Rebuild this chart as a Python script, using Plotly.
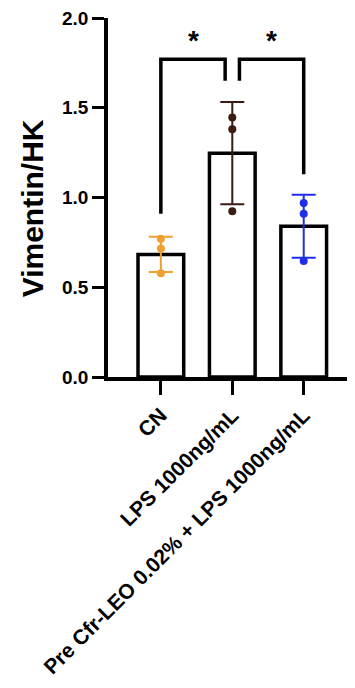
import plotly.graph_objects as go

categories = ["CN", "LPS 1000ng/mL", "Pre Cfr-LEO 0.02% + LPS 1000ng/mL"]
means = [0.683, 1.247, 0.840]
sds = [0.098, 0.285, 0.176]
points = [
    [0.770, 0.716, 0.578],
    [1.446, 1.380, 0.924],
    [0.970, 0.909, 0.646],
]
colors = ["#F0A030", "#3A1C12", "#1F2FE6"]
y_ticks = [0.0, 0.5, 1.0, 1.5, 2.0]
y_title = "Vimentin/HK"

# significance brackets
brackets_x = [(0.0, 0.9), (1.1, 2.0)]
brackets_leg = [(0.91, 1.65), (1.65, 1.13)]
bracket_top = 1.77
star_y = 1.875
star_text = ["*", "*"]

FONT = "Liberation Sans, Arial, sans-serif"

fig = go.Figure()
xs = list(range(len(categories)))
for i in xs:
    fig.add_trace(go.Bar(
        x=[i], y=[means[i]], width=0.64,
        marker=dict(color="white", line=dict(color="black", width=3.5)),
        error_y=dict(type="data", array=[sds[i]], visible=True,
                     color=colors[i], thickness=2, width=12),
        showlegend=False,
    ))
for i in xs:
    fig.add_trace(go.Scatter(
        x=[i] * len(points[i]), y=points[i], mode="markers",
        marker=dict(color=colors[i], size=8),
        showlegend=False,
    ))

for (xl, xr), (bl, br) in zip(brackets_x, brackets_leg):
    fig.add_trace(go.Scatter(
        x=[xl, xl, xr, xr], y=[bl, bracket_top, bracket_top, br],
        mode="lines", line=dict(color="black", width=3.5),
        showlegend=False, cliponaxis=False,
    ))
for (xl, xr), s in zip(brackets_x, star_text):
    fig.add_annotation(x=(xl + xr) / 2, y=star_y, text="<b>%s</b>" % s, showarrow=False,
                       font=dict(family=FONT, size=28, color="black"),
                       xref="x", yref="y")

# y-axis title placed as annotation
fig.add_annotation(x=-0.31, y=0.47, xref="paper", yref="paper", text="<b>%s</b>" % y_title,
                   textangle=-90, showarrow=False, xanchor="center", yanchor="middle",
                   font=dict(family=FONT, size=30, color="black"))

fig.update_layout(
    width=347, height=680,
    margin=dict(l=100, r=2, t=10, b=311),
    plot_bgcolor="white", paper_bgcolor="white",
    barmode="overlay",
    font=dict(family=FONT, color="black"),
)
fig.update_xaxes(
    range=[-0.74, 2.69], tickvals=xs, ticktext=["<b>%s</b>" % c for c in categories],
    tickangle=-45, showline=True, linecolor="black", linewidth=3.5,
    ticks="outside", ticklen=14, tickwidth=3, tickcolor="black",
    showgrid=False, zeroline=False, automargin=False, ticklabeloverflow="allow",
    tickfont=dict(family=FONT, size=21, color="black"),
)
fig.update_yaxes(
    range=[0, 2.0], tickvals=y_ticks, ticktext=["<b>%.1f</b>" % v for v in y_ticks],
    showline=True, linecolor="black", linewidth=3.5,
    ticks="outside", ticklen=12, tickwidth=3, tickcolor="black",
    showgrid=False, zeroline=False, automargin=False, ticklabeloverflow="allow",
    tickfont=dict(family=FONT, size=19, color="black"),
)

fig.write_html("out.html")
